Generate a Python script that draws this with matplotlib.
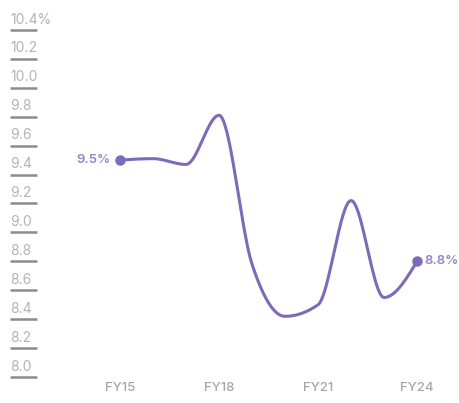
import numpy as np
import matplotlib
matplotlib.use("Agg")
import matplotlib.pyplot as plt
from matplotlib.transforms import blended_transform_factory

# Data
years = [15, 16, 17, 18, 19, 20, 21, 22, 23, 24]
values = [9.5, 9.51, 9.47, 9.81, 8.78, 8.42, 8.50, 9.22, 8.55, 8.8]
x_tick_years = [15, 18, 21, 24]
x_tick_labels = ["FY15", "FY18", "FY21", "FY24"]
y_ticks = [8.0, 8.2, 8.4, 8.6, 8.8, 9.0, 9.2, 9.4, 9.6, 9.8, 10.0, 10.2, 10.4]
y_tick_labels = ["8.0", "8.2", "8.4", "8.6", "8.8", "9.0", "9.2", "9.4",
                 "9.6", "9.8", "10.0", "10.2", "10.4%"]

LINE = "#7b6bb8"
LABEL = "#9486c6"
TICK_TEXT = "#b3b3b3"
RULE = "#8c8c8c"
FONT = "Inter"


def monotone_x(x, y, n=40):
    """Monotone cubic interpolation (same slopes as d3.curveMonotoneX)."""
    x = np.asarray(x, float)
    y = np.asarray(y, float)
    h = np.diff(x)
    s = np.diff(y) / h
    m = np.zeros_like(y)
    for i in range(1, len(x) - 1):
        s0, s1 = s[i - 1], s[i]
        p = (s0 * h[i] + s1 * h[i - 1]) / (h[i - 1] + h[i])
        m[i] = (np.sign(s0) + np.sign(s1)) * min(abs(s0), abs(s1), 0.5 * abs(p))
    m[0] = (3 * s[0] - m[1]) / 2
    m[-1] = (3 * s[-1] - m[-2]) / 2
    xs, ys = [], []
    for i in range(len(x) - 1):
        t = np.linspace(0, 1, n, endpoint=(i == len(x) - 2))
        h00 = 2 * t**3 - 3 * t**2 + 1
        h10 = t**3 - 2 * t**2 + t
        h01 = -2 * t**3 + 3 * t**2
        h11 = t**3 - t**2
        xs.append(x[i] + t * h[i])
        ys.append(h00 * y[i] + h10 * h[i] * m[i] + h01 * y[i + 1] + h11 * h[i] * m[i + 1])
    return np.concatenate(xs), np.concatenate(ys)


fig = plt.figure(figsize=(4.6, 4.03), dpi=100)
ax = fig.add_axes([0, 0, 1, 1])
ax.set_xlim(11.364, 25.30)
ax.set_ylim(7.8205, 10.607)
ax.axis("off")

cx, cy = monotone_x(years, values)
ax.plot(cx, cy, color=LINE, lw=2.2, solid_capstyle="round", zorder=3)
ax.plot([years[0], years[-1]], [values[0], values[-1]], "o", color=LINE,
        ms=6.5, zorder=4)

ax.annotate(f"{values[0]:.1f}%", (years[0], values[0]), xytext=(-7, 0),
            textcoords="offset points", ha="right", va="center",
            color=LABEL, fontsize=9.5, fontweight="semibold", family=FONT)
ax.annotate(f"{values[-1]:.1f}%", (years[-1], values[-1]), xytext=(5.5, 0),
            textcoords="offset points", ha="left", va="center",
            color=LABEL, fontsize=9.5, fontweight="semibold", family=FONT)

# y scale: underlined labels at the left edge
tr = blended_transform_factory(fig.transFigure, ax.transData)
for v, lab in zip(y_ticks, y_tick_labels):
    ax.plot([10 / 460, 37 / 460], [v, v], color=RULE, lw=1.8,
            transform=tr, clip_on=False, solid_capstyle="butt")
    ax.annotate(lab, (10 / 460, v), xycoords=tr, xytext=(0, 7.5),
                textcoords="offset points", ha="left", va="center",
                color=TICK_TEXT, fontsize=10, family=FONT)

# x labels along the bottom
trx = blended_transform_factory(ax.transData, fig.transFigure)
for yr, lab in zip(x_tick_years, x_tick_labels):
    ax.text(yr, 1 - 388 / 403, lab, transform=trx, ha="center", va="center",
            color="#a6a6a6", fontsize=9.5, fontweight="medium", family=FONT)

fig.savefig("out.png", dpi=100)
